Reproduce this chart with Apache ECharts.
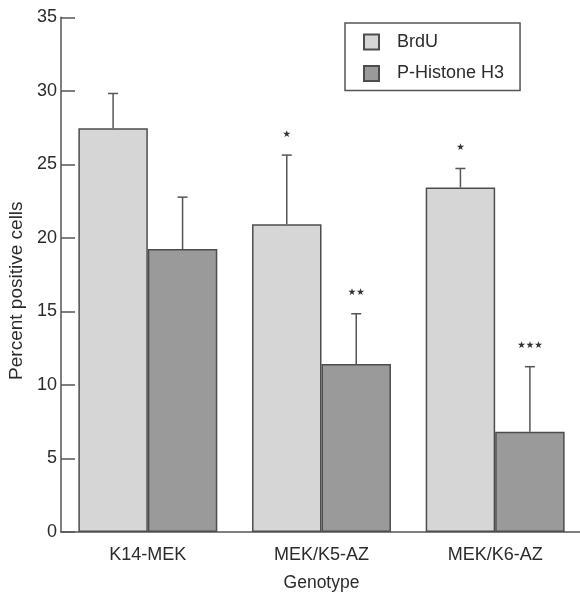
<!DOCTYPE html>
<html>
<head>
<meta charset="utf-8">
<script src="https://cdn.jsdelivr.net/npm/echarts@6/dist/echarts.min.js"></script>
<style>html,body{margin:0;padding:0;background:#fff;}#c{width:580px;height:593px;}</style>
</head>
<body>
<div id="c"></div>
<script>
var categories = ['K14-MEK', 'MEK/K5-AZ', 'MEK/K6-AZ'];
var brduMean = [27.45, 20.92, 23.43];
var brduUpper = [29.82, 25.63, 24.72];
var ph3Mean = [19.24, 11.42, 6.82];
var ph3Upper = [22.77, 14.84, 11.24];
var brduSig = ['', '*', '*'];
var ph3Sig = ['', '**', '***'];
var yTicks = [0, 5, 10, 15, 20, 25, 30, 35];

var FONT = "'Liberation Sans', Arial, Helvetica, sans-serif";
var TXT = '#2b2b2b';
var LINE = '#555555';

var chart = echarts.init(document.getElementById('c'));

// error bar data: [categoryIndex, seriesIndex(0/1), mean, upper, sig]
var errData = [];
categories.forEach(function (c, i) {
  errData.push([i, 0, brduMean[i], brduUpper[i], brduSig[i]]);
  errData.push([i, 1, ph3Mean[i], ph3Upper[i], ph3Sig[i]]);
});

function renderErr(params, api) {
  var ci = api.value(0), si = api.value(1);
  var mean = api.value(2), up = api.value(3);
  var sig = errData[params.dataIndex][4];
  var catW = api.size([1, 0])[0];
  var barW = catW * 0.8 / 2;
  var center = api.coord([ci, 0])[0];
  var x = center + (si === 0 ? -barW / 2 : barW / 2);
  var yMean = api.coord([ci, mean])[1];
  var yUp = api.coord([ci, up])[1];
  var cap = 5;
  var children = [
    { type: 'line', shape: { x1: x, y1: yMean, x2: x, y2: yUp }, style: { stroke: LINE, lineWidth: 1.5 } },
    { type: 'line', shape: { x1: x - cap, y1: yUp, x2: x + cap, y2: yUp }, style: { stroke: LINE, lineWidth: 1.5 } }
  ];
  if (sig) {
    children.push({
      type: 'text',
      style: {
        text: sig.replace(/\*/g, '★'),
        x: x, y: yUp - 21,
        align: 'center', verticalAlign: 'middle',
        font: "9.5px 'DejaVu Sans', sans-serif",
        fill: '#333'
      }
    });
  }
  return { type: 'group', children: children };
}

chart.setOption({
  animation: false,
  backgroundColor: '#fff',
  textStyle: { fontFamily: FONT, color: TXT },
  grid: { left: 61, right: -2, top: 17.3, bottom: 61, containLabel: false, outerBoundsMode: 'none' },
  legend: {
    orient: 'vertical',
    left: 345, top: 23,
    padding: [10, 16, 8, 18],
    itemGap: 13.4,
    itemWidth: 15, itemHeight: 15,
    borderColor: LINE, borderWidth: 1.5,
    borderRadius: 0,
    icon: 'rect',
    textStyle: { fontFamily: FONT, fontSize: 18, lineHeight: 15, color: TXT, padding: [0, 0, 0, 13] },
    data: ['BrdU', 'P-Histone H3']
  },
  xAxis: {
    type: 'category',
    data: categories,
    name: 'Genotype',
    nameLocation: 'middle',
    nameGap: 42,
    nameTextStyle: { fontFamily: FONT, fontSize: 17.5, color: TXT },
    axisLine: { lineStyle: { color: LINE, width: 1.5 } },
    axisTick: { inside: true, length: 14, lineStyle: { color: LINE, width: 1.5 } },
    axisLabel: { fontFamily: FONT, fontSize: 18, color: TXT, margin: 14 }
  },
  yAxis: {
    type: 'value',
    min: 0, max: 35, interval: 5,
    name: 'Percent positive cells',
    nameLocation: 'middle',
    nameGap: 31,
    nameTextStyle: { fontFamily: FONT, fontSize: 19, color: TXT, padding: [0, 32, 0, 0] },
    axisLine: { show: true, lineStyle: { color: LINE, width: 1.5 } },
    axisTick: { show: true, inside: true, length: 14, lineStyle: { color: LINE, width: 1.5 } },
    axisLabel: { fontFamily: FONT, fontSize: 18, color: TXT, margin: 4,
      formatter: function (v) { return yTicks.indexOf(v) >= 0 ? String(v) : ''; } },
    splitLine: { show: false }
  },
  series: [
    {
      name: 'BrdU', type: 'bar', data: brduMean,
      barGap: '0%', barCategoryGap: '20%',
      itemStyle: { color: '#d6d6d6', borderColor: '#4d4d4d', borderWidth: 1.5 }
    },
    {
      name: 'P-Histone H3', type: 'bar', data: ph3Mean,
      barGap: '0%', barCategoryGap: '20%',
      itemStyle: { color: '#9a9a9a', borderColor: '#4d4d4d', borderWidth: 1.5 }
    },
    {
      type: 'custom', renderItem: renderErr,
      data: errData.map(function (d) { return [d[0], d[1], d[2], d[3]]; }),
      encode: { x: 0, y: 3 }, z: 5, silent: true
    }
  ]
});
</script>
</body>
</html>
